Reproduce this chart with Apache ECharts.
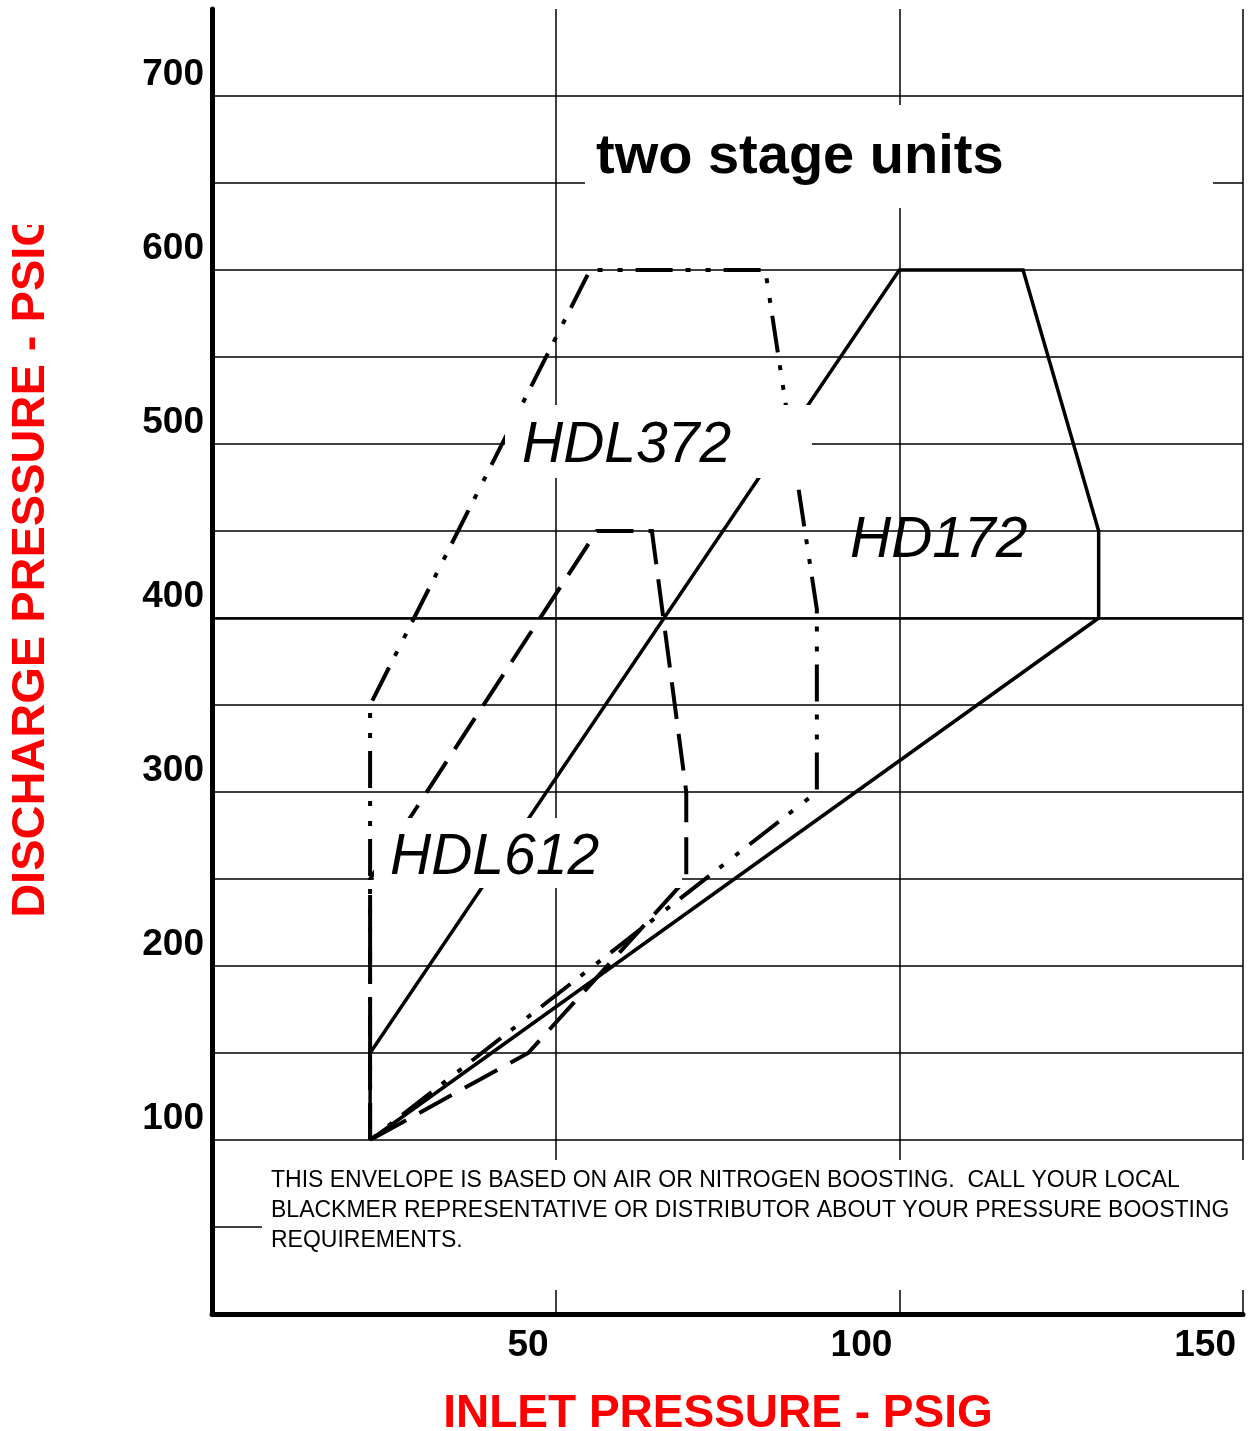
<!DOCTYPE html>
<html>
<head>
<meta charset="utf-8">
<script src="https://cdn.jsdelivr.net/npm/echarts@6/dist/echarts.min.js"></script>
<style>
  html, body { margin: 0; padding: 0; background: #fff; }
  #chart { width: 1249px; height: 1431px; }
</style>
</head>
<body>
<div id="chart"></div>
<script>
// tick labels shown on the axes
const inletTicks = [50, 100, 150]
const dischargeTicks = [100, 200, 300, 400, 500, 600, 700]

// envelopes: [inlet psig, discharge psig]
const hd172 = [[23, 100], [23, 150], [100, 600], [118, 600], [129, 450], [129, 400], [23, 100]]
const hdl372 = [[23, 100], [23, 350], [55, 600], [80.5, 600], [88, 405], [88, 300], [23, 100]]
const hdl612 = [[23, 100], [23, 250], [56, 450], [64, 450], [69, 300], [69, 250], [46, 150], [23, 100]]

const FONT = '"Liberation Sans", Arial, Helvetica, sans-serif'
const note = [
  'THIS ENVELOPE IS BASED ON AIR OR NITROGEN BOOSTING.  CALL YOUR LOCAL',
  'BLACKMER REPRESENTATIVE OR DISTRIBUTOR ABOUT YOUR PRESSURE BOOSTING',
  'REQUIREMENTS.'
]

const chart = echarts.init(document.getElementById('chart'))

function envelope (name, data, width, type) {
  return {
    name: name,
    type: 'line',
    data: data,
    symbol: 'none',
    silent: true,
    z: 3,
    lineStyle: { color: '#000', width: width, type: type, cap: 'butt', join: 'miter' }
  }
}

// white boxes behind the annotations (they hide grid and curves like the original)
function box (x, y, w, h) {
  return { type: 'rect', z: 100, silent: true, shape: { x: x, y: y, width: w, height: h }, style: { fill: '#fff' } }
}
function label (text, x, y, font, fill, align, rotation) {
  return {
    type: 'text', z: 101, silent: true, x: x, y: y, rotation: rotation || 0,
    style: { text: text, font: font, fill: fill || '#000', align: align || 'left', verticalAlign: 'middle' }
  }
}

const hd172Series = envelope('HD172', hd172, 3.5, 'solid')
hd172Series.markLine = {
  silent: true,
  symbol: 'none',
  label: { show: false },
  lineStyle: { color: '#000', width: 2.5, type: 'solid' },
  data: [{ yAxis: 400 }]
}

chart.setOption({
  animation: false,
  backgroundColor: '#fff',
  grid: { left: 212, right: 6, top: 9, bottom: 117 },
  xAxis: {
    type: 'value',
    min: 0,
    max: 150,
    interval: 50,
    axisLine: { show: true, onZero: false, lineStyle: { color: '#000', width: 5 } },
    axisTick: { show: false },
    axisLabel: {
      color: '#000',
      fontFamily: FONT,
      fontWeight: 'bold',
      fontSize: 37,
      margin: 13,
      align: 'right',
      padding: [0, 7, 0, 0],
      formatter: v => inletTicks.includes(v) ? String(v) : ''
    },
    splitLine: { show: true, showMinLine: false, lineStyle: { color: '#000', width: 1.5 } }
  },
  yAxis: {
    type: 'value',
    min: 0,
    max: 750,
    interval: 50,
    axisLine: { show: true, onZero: false, lineStyle: { color: '#000', width: 5 } },
    axisTick: { show: false },
    axisLabel: {
      color: '#000',
      fontFamily: FONT,
      fontWeight: 'bold',
      fontSize: 37,
      margin: 8,
      verticalAlign: 'bottom',
      lineHeight: 42,
      formatter: v => dischargeTicks.includes(v) ? String(v) : ''
    },
    splitLine: { show: true, showMinLine: false, showMaxLine: false, lineStyle: { color: '#000', width: 1.5 } }
  },
  series: [
    hd172Series,
    envelope('HDL372', hdl372, 4, [37, 13, 5, 15, 5, 13]),
    envelope('HDL612', hdl612, 4, [37, 15])
  ],
  graphic: [
    // title
    box(585, 105, 628, 103),
    label('two stage units', 596, 158, 'bold 56px ' + FONT),
    // curve names
    box(505, 405, 307, 73),
    label('HDL372', 522, 446, 'italic 57px ' + FONT),
    label('HD172', 850, 541, 'italic 57px ' + FONT),
    box(374, 818, 308, 70),
    label('HDL612', 390, 858, 'italic 57px ' + FONT),
    // footnote
    box(262, 1160, 990, 130),
    label(note[0], 271, 1181, '23px ' + FONT),
    label(note[1], 271, 1211, '23px ' + FONT),
    label(note[2], 271, 1241, '23px ' + FONT),
    // axis titles
    label('INLET PRESSURE - PSIG', 718, 1414, 'bold 46px ' + FONT, '#ff0000', 'center'),
    label('DISCHARGE PRESSURE - PSIG', 31, 564, 'bold 47px ' + FONT, '#ff0000', 'center', Math.PI / 2),
    // the original cuts the vertical title off at the top
    { type: 'rect', z: 102, silent: true, shape: { x: 0, y: 0, width: 62, height: 225 }, style: { fill: '#fff' } }
  ]
})
</script>
</body>
</html>
